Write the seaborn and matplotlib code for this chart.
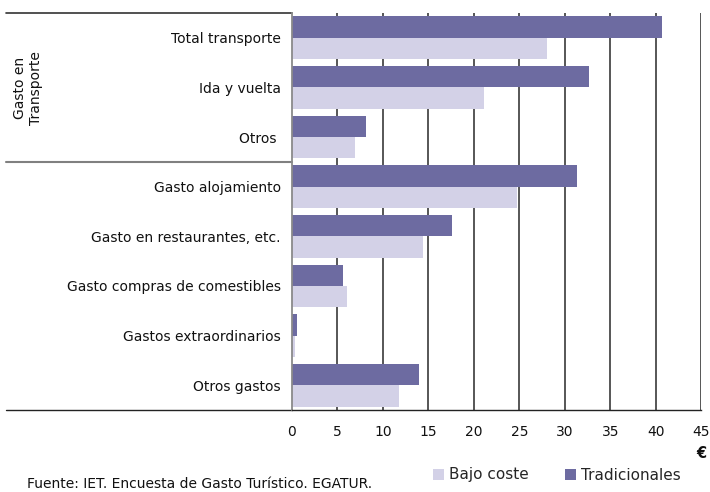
import matplotlib
matplotlib.use("Agg")
import matplotlib.pyplot as plt
from matplotlib.patches import Patch
from matplotlib.lines import Line2D
import seaborn as sns
import pandas as pd

# Gasto medio por turista (euros) según tipo de compañía aérea
categorias = [
    "Total transporte",
    "Ida y vuelta",
    "Otros ",
    "Gasto alojamiento",
    "Gasto en restaurantes, etc.",
    "Gasto compras de comestibles",
    "Gastos extraordinarios",
    "Otros gastos",
]
tradicionales = [40.7, 32.6, 8.1, 31.3, 17.6, 5.6, 0.6, 14.0]
bajo_coste = [28.0, 21.1, 6.9, 24.7, 14.4, 6.1, 0.3, 11.8]
series = ["Tradicionales", "Bajo coste"]
ticks_x = [0, 5, 10, 15, 20, 25, 30, 35, 40, 45]

color_trad = "#6d6ba1"
color_bajo = "#d3d1e7"

df = pd.DataFrame({
    "categoria": categorias * 2,
    "serie": [series[0]] * len(categorias) + [series[1]] * len(categorias),
    "valor": tradicionales + bajo_coste,
})

sns.set_theme(style="white")
plt.rcParams["font.family"] = ["DejaVu Sans"]

fig = plt.figure(figsize=(7.10, 4.92), dpi=100)
ax = fig.add_axes([292 / 710, 1 - 410 / 492, 409.4 / 710, 397 / 492])

sns.barplot(
    data=df, y="categoria", x="valor", hue="serie",
    order=categorias, hue_order=series,
    palette={"Tradicionales": color_trad, "Bajo coste": color_bajo},
    orient="h", width=0.86, saturation=1, errorbar=None, legend=False,
    linewidth=0, edgecolor="none", ax=ax,
)

ax.set_xlim(0, 45)
ax.set_ylim(len(categorias) - 0.5, -0.5)
ax.set_xticks(ticks_x)
ax.set_xticklabels([str(t) for t in ticks_x], fontsize=10, color="#111111")
ax.set_yticks(range(len(categorias)))
ax.set_yticklabels(categorias, fontsize=10, color="#111111")
ax.set_xlabel("")
ax.set_ylabel("")

# vertical grid lines
for t in ticks_x[1:]:
    ax.axvline(t, color="#3a3a3a", lw=1.2, zorder=0)

for side in ["top", "right"]:
    ax.spines[side].set_visible(False)
ax.spines["left"].set_color("#8a8a8a")
ax.spines["left"].set_linewidth(1.3)
ax.spines["bottom"].set_color("#222222")
ax.spines["bottom"].set_linewidth(1.0)

ax.tick_params(axis="x", which="major", direction="out", length=4, width=1,
               color="#222222", pad=7)
ax.tick_params(axis="y", length=0, pad=8)

# category group lines to the left of the plot
x_left = (6 - 292) / 409.4
blend = ax.get_yaxis_transform()
ax.add_line(Line2D([x_left, 0], [1, 1], transform=ax.transAxes,
                   color="#333333", lw=1.2, clip_on=False))
ax.add_line(Line2D([x_left, 0], [2.5, 2.5], transform=blend,
                   color="#808080", lw=1.5, clip_on=False))
ax.add_line(Line2D([x_left, 0], [0, 0], transform=ax.transAxes,
                   color="#222222", lw=1.0, clip_on=False))

fig.text(28 / 710, 1 - 88 / 492, "Gasto en\nTransporte", rotation=90,
         ha="center", va="center", fontsize=10, color="#111111",
         multialignment="center")

fig.text(701 / 710, 1 - 453 / 492, "€", ha="center", va="center",
         fontsize=10.5, fontweight="bold", color="#111111")

handles = [Patch(facecolor=color_bajo, edgecolor="none", label="Bajo coste"),
           Patch(facecolor=color_trad, edgecolor="none", label="Tradicionales")]
fig.legend(handles=handles, loc="center left",
           bbox_to_anchor=(433 / 710, 1 - 475 / 492), ncol=2, frameon=False,
           fontsize=11, handlelength=0.7, handleheight=0.7, handletextpad=0.35,
           columnspacing=2.4, borderaxespad=0, borderpad=0)

fig.text(27 / 710, 1 - 484 / 492, "Fuente: IET. Encuesta de Gasto Turístico. EGATUR.",
         ha="left", va="center", fontsize=10, color="#111111")

fig.savefig("out.png", dpi=100)
